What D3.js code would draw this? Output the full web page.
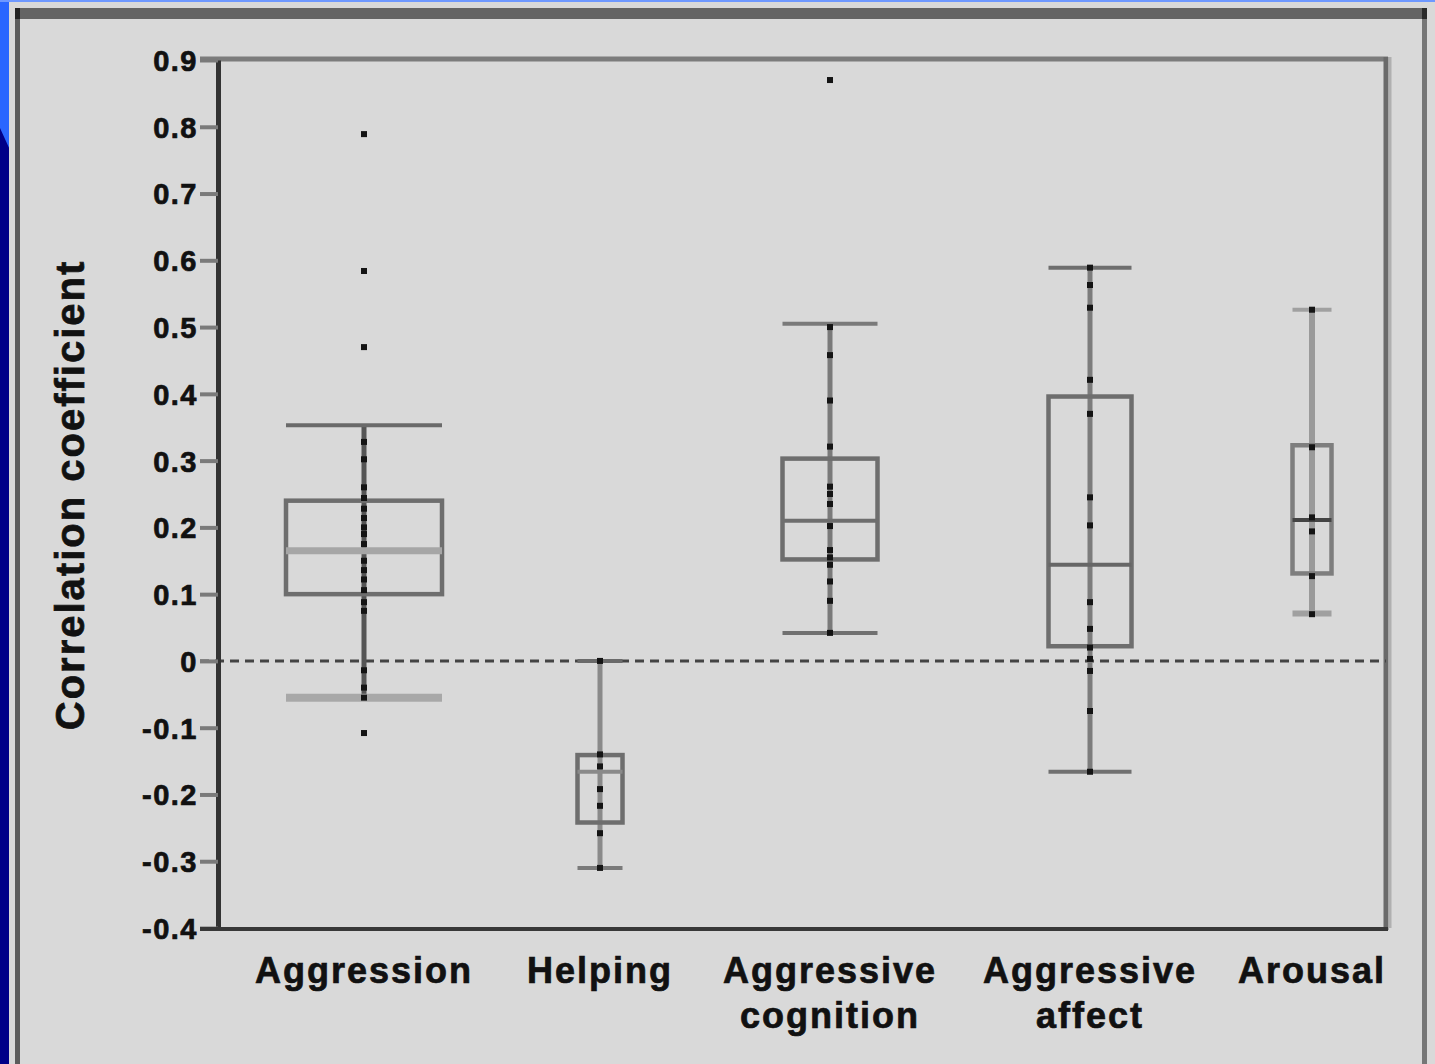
<!DOCTYPE html>
<html>
<head>
<meta charset="utf-8">
<script src="https://cdn.jsdelivr.net/npm/d3@7"></script>
<style>
  html, body { margin: 0; padding: 0; background: #d9d9d9; }
  svg { display: block; }
  text { font-family: "Liberation Sans", Arial, Helvetica, sans-serif; font-weight: bold; fill: #111; stroke: #111; stroke-width: 0.7px; }
</style>
</head>
<body>
<svg id="chart" width="1435" height="1064"></svg>
<script>
// Effect-size summary: one box per outcome (correlation coefficients across studies)
const categories = ["Aggression", "Helping", "Aggressive cognition", "Aggressive affect", "Arousal"];
const categoryLines = [["Aggression"], ["Helping"], ["Aggressive", "cognition"], ["Aggressive", "affect"], ["Arousal"]];

const whiskerLow  = [-0.055, -0.310, 0.042, -0.166, 0.071];
const quartile1   = [ 0.100, -0.242, 0.152,  0.022, 0.131];
const medians     = [ 0.165, -0.166, 0.210,  0.144, 0.211];
const quartile3   = [ 0.240, -0.141, 0.303,  0.396, 0.323];
const whiskerHigh = [ 0.353,  0.000, 0.505,  0.589, 0.526];

// individual study correlations drawn on each box's centre line
const studyValues = [
  [0.789, 0.584, 0.470, 0.328, 0.302, 0.260, 0.244, 0.228, 0.214, 0.200, 0.190, 0.175,
   0.150, 0.136, 0.122, 0.106, 0.088, 0.075, -0.014, -0.040, -0.055, -0.108],
  [0.000, -0.140, -0.158, -0.192, -0.217, -0.258, -0.310],
  [0.870, 0.500, 0.458, 0.390, 0.321, 0.261, 0.250, 0.235, 0.202, 0.166, 0.155, 0.144,
   0.119, 0.090, 0.042],
  [0.589, 0.563, 0.529, 0.421, 0.370, 0.245, 0.203, 0.088, 0.048, 0.020, 0.003, -0.015,
   -0.075, -0.166],
  [0.526, 0.320, 0.215, 0.194, 0.127, 0.070]
];

const yTicks = [0.9, 0.8, 0.7, 0.6, 0.5, 0.4, 0.3, 0.2, 0.1, 0, -0.1, -0.2, -0.3, -0.4];
const yTickLabels = ["0.9", "0.8", "0.7", "0.6", "0.5", "0.4", "0.3", "0.2", "0.1", "0", "-0.1", "-0.2", "-0.3", "-0.4"];

// ---- layout ----
const svg = d3.select("#chart");
const W = 1435, H = 1064;
const plot = { left: 218, right: 1386, top: 60, bottom: 928 };

const y = d3.scaleLinear().domain([-0.4, 0.9]).range([plot.bottom, plot.top]);
const x = d3.scaleOrdinal().domain(categories).range([364, 600, 830, 1090, 1312]);
const boxWidth = d3.scaleOrdinal().domain(categories).range([156, 45, 95, 83, 39]);

// slide backdrop and framed panel
svg.append("rect").attr("x", 0).attr("y", 0).attr("width", W).attr("height", H).attr("fill", "#000088");
svg.append("polygon").attr("points", "0,0 " + W + ",0 " + W + ",3 10,3 10,150 0,128").attr("fill", "#2a66ff");
svg.append("rect").attr("x", 0).attr("y", 0).attr("width", W).attr("height", 2).attr("fill", "#6e98ff");
svg.append("rect").attr("x", 9).attr("y", 2).attr("width", W - 9).attr("height", H - 2).attr("fill", "#d9d9d9");
svg.append("rect").attr("x", 15).attr("y", 8).attr("width", 1412).attr("height", 11).attr("fill", "#646464");
svg.append("rect").attr("x", 15).attr("y", 8).attr("width", 5).attr("height", H - 8).attr("fill", "#5c5c5c");
svg.append("rect").attr("x", 1422).attr("y", 8).attr("width", 5).attr("height", H - 8).attr("fill", "#767676");
svg.append("rect").attr("x", 15).attr("y", 8).attr("width", 5).attr("height", 11).attr("fill", "#222");
svg.append("rect").attr("x", 1422).attr("y", 8).attr("width", 5).attr("height", 11).attr("fill", "#2a2a2a");

// plot frame: top and right edges
svg.append("line").attr("x1", 200).attr("x2", plot.right + 2).attr("y1", plot.top - 1).attr("y2", plot.top - 1)
  .attr("stroke", "#7c7c7c").attr("stroke-width", 5);
svg.append("line").attr("x1", plot.right).attr("x2", plot.right).attr("y1", plot.top - 3).attr("y2", plot.bottom + 2)
  .attr("stroke", "#6a6a6a").attr("stroke-width", 5);
svg.append("line").attr("x1", plot.right + 4).attr("x2", plot.right + 4).attr("y1", plot.top - 3).attr("y2", plot.bottom)
  .attr("stroke", "#b0b0b0").attr("stroke-width", 3);

// zero reference line
svg.append("line").attr("x1", 200).attr("x2", plot.right).attr("y1", y(0)).attr("y2", y(0))
  .attr("stroke", "#444").attr("stroke-width", 3).attr("stroke-dasharray", "9,6");

// y axis
const yAxis = d3.axisLeft(y).tickValues(yTicks).tickFormat((d, i) => yTickLabels[i])
  .tickSize(18).tickSizeOuter(0).tickPadding(2);
const gy = svg.append("g").attr("transform", `translate(${plot.left},0)`).call(yAxis);
gy.select(".domain").attr("stroke", "#333").attr("stroke-width", 5);
gy.selectAll(".tick line").attr("stroke", "#7a7a7a").attr("stroke-width", 4);
gy.selectAll(".tick text").attr("font-size", 29).attr("letter-spacing", 1.5).attr("fill", "#111")
  .attr("font-family", "'Liberation Sans', Arial, sans-serif").attr("font-weight", "bold").attr("dy", "0.36em");

// bottom axis line
svg.append("line").attr("x1", 200).attr("x2", plot.right + 2).attr("y1", plot.bottom + 1).attr("y2", plot.bottom + 1)
  .attr("stroke", "#383838").attr("stroke-width", 4);

// y axis title
svg.append("text")
  .attr("transform", `translate(84,${(260 + 730) / 2}) rotate(-90)`)
  .attr("text-anchor", "middle").attr("font-size", 40).attr("letter-spacing", 2)
  .text("Correlation coefficient");

// category labels
const labelG = svg.append("g");
categories.forEach((c, i) => {
  const t = labelG.append("text").attr("text-anchor", "middle").attr("font-size", 36).attr("letter-spacing", 2);
  categoryLines[i].forEach((ln, j) => {
    t.append("tspan").attr("x", x(c)).attr("y", 983 + j * 45).text(ln);
  });
});

// boxes
const boxStyle = [
  { box: "#6e6e6e", med: "#a6a6a6", medW: 7, hiCap: "#6a6a6a", loCap: "#a8a8a8", loW: 8, stem: "#555", stemW: 5 },
  { box: "#6e6e6e", med: "#8a8a8a", medW: 4, hiCap: "#6a6a6a", loCap: "#7a7a7a", loW: 4, stem: "#8a8a8a", stemW: 5 },
  { box: "#6e6e6e", med: "#6e6e6e", medW: 4, hiCap: "#7a7a7a", loCap: "#707070", loW: 4, stem: "#7a7a7a", stemW: 5 },
  { box: "#6e6e6e", med: "#666", medW: 4, hiCap: "#6e6e6e", loCap: "#707070", loW: 4, stem: "#7c7c7c", stemW: 5 },
  { box: "#7e7e7e", med: "#444", medW: 4, hiCap: "#a0a0a0", loCap: "#a0a0a0", loW: 6, stem: "#9a9a9a", stemW: 6 }
];

const boxes = svg.append("g");
categories.forEach((c, i) => {
  const cx = x(c), bw = boxWidth(c), s = boxStyle[i];
  const g = boxes.append("g");
  // whisker stem
  g.append("line").attr("x1", cx).attr("x2", cx).attr("y1", y(whiskerHigh[i])).attr("y2", y(whiskerLow[i]))
    .attr("stroke", s.stem).attr("stroke-width", s.stemW);
  // box
  g.append("rect").attr("x", cx - bw / 2).attr("y", y(quartile3[i]))
    .attr("width", bw).attr("height", y(quartile1[i]) - y(quartile3[i]))
    .attr("fill", "none").attr("stroke", s.box).attr("stroke-width", 4.5);
  // median
  g.append("line").attr("x1", cx - bw / 2).attr("x2", cx + bw / 2).attr("y1", y(medians[i])).attr("y2", y(medians[i]))
    .attr("stroke", s.med).attr("stroke-width", s.medW);
  // caps
  g.append("line").attr("x1", cx - bw / 2).attr("x2", cx + bw / 2).attr("y1", y(whiskerHigh[i])).attr("y2", y(whiskerHigh[i]))
    .attr("stroke", s.hiCap).attr("stroke-width", 4);
  g.append("line").attr("x1", cx - bw / 2).attr("x2", cx + bw / 2).attr("y1", y(whiskerLow[i])).attr("y2", y(whiskerLow[i]))
    .attr("stroke", s.loCap).attr("stroke-width", s.loW);
  // study points
  g.selectAll("rect.pt").data(studyValues[i]).join("rect").attr("class", "pt")
    .attr("x", cx - 3).attr("y", d => y(d) - 3).attr("width", 6).attr("height", 6).attr("fill", "#141414");
});
</script>
</body>
</html>
